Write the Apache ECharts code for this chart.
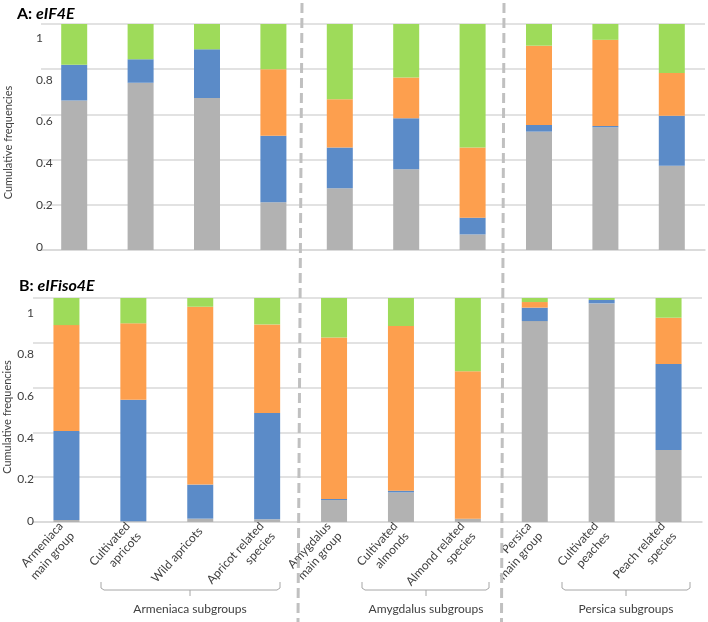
<!DOCTYPE html>
<html><head><meta charset="utf-8">
<script src="https://cdn.jsdelivr.net/npm/echarts@6/dist/echarts.min.js"></script>
<style>html,body{margin:0;padding:0;background:#fff}#c{width:708px;height:622px}</style>
</head><body><div id="c"></div>
<script>
const categories = ['Armeniaca\nmain group','Cultivated\napricots','Wild apricots','Apricot related\nspecies','Amygdalus\nmain group','Cultivated\nalmonds','Almond related\nspecies','Persica\nmain group','Cultivated\npeaches','Peach related\nspecies'];
const yTickLabels = ['0','0.2','0.4','0.6','0.8','1'];
const subgroupLabels = ['Armeniaca subgroups','Amygdalus subgroups','Persica subgroups'];

// Panel A: eIF4E (segment frequencies, bottom to top)
const eIF4E_gray   = [0.661,0.740,0.673,0.211,0.273,0.357,0.069,0.524,0.543,0.373];
const eIF4E_blue   = [0.159,0.104,0.215,0.295,0.181,0.226,0.074,0.029,0.006,0.221];
const eIF4E_orange = [0,0,0,0.294,0.213,0.180,0.311,0.351,0.381,0.189];
const eIF4E_green  = [0.180,0.156,0.112,0.200,0.333,0.237,0.546,0.096,0.070,0.217];

// Panel B: eIFiso4E
const eIFiso4E_gray   = [0.009,0.003,0.015,0.012,0.098,0.132,0.015,0.897,0.976,0.321];
const eIFiso4E_blue   = [0.397,0.543,0.152,0.475,0.005,0.008,0,0.060,0.015,0.384];
const eIFiso4E_orange = [0.473,0.341,0.794,0.395,0.721,0.735,0.658,0.025,0,0.207];
const eIFiso4E_green  = [0.121,0.113,0.039,0.118,0.176,0.125,0.327,0.018,0.009,0.088];

const COLORS = {gray:'#b2b2b2', blue:'#5b8bc8', orange:'#fd9f4e', green:'#9edb5a'};
const FONT = 'Lato, "Open Sans", sans-serif';
const TXT = '#404040';
const GRIDC = '#d9d9d9';

const chart = echarts.init(document.getElementById('c'), null, {renderer:'canvas'});

function mainY(idx){
  return {gridIndex:idx, type:'value', min:0, max:1, interval:0.2,
    axisLabel:{show:false}, axisLine:{show:false}, axisTick:{show:false},
    splitLine:{show:true, lineStyle:{color:GRIDC, width:1.6}}};
}
function labelY(idx, align){
  return {gridIndex:idx, type:'value', min:0, max:1, interval:0.2,
    name:'Cumulative frequencies', nameLocation:'middle', nameRotate:90,
    nameGap: align==='left'?22:20,
    nameTextStyle:{fontFamily:FONT, fontSize:11, color:TXT},
    axisLine:{show:false}, axisTick:{show:false}, splitLine:{show:false},
    axisLabel:{show:true, margin:0, align:align, fontFamily:FONT, fontSize:12, color:TXT,
      formatter:(v,i)=>yTickLabels[i]}};
}
function ser(name, data, color, xi){
  return {type:'bar', name:name, stack:'s'+xi, xAxisIndex:xi, yAxisIndex:xi, data:data,
    barWidth:26, itemStyle:{color:color}, emphasis:{disabled:true}, silent:true};
}

const option = {
  animation:false,
  backgroundColor:'#fff',
  title:[
    {left:12, top:1, text:'{a|A: }{b|eIF4E}', textStyle:{rich:{
      a:{fontFamily:FONT, fontSize:16, fontWeight:'bold', color:'#000'},
      b:{fontFamily:FONT, fontSize:16, fontWeight:'bold', fontStyle:'italic', color:'#000'}}}},
    {left:14, top:273, text:'{a|B: }{b|eIFiso4E}', textStyle:{rich:{
      a:{fontFamily:FONT, fontSize:16, fontWeight:'bold', color:'#000'},
      b:{fontFamily:FONT, fontSize:16, fontWeight:'bold', fontStyle:'italic', color:'#000'}}}}
  ],
  grid:[
    {left:41, right:3, top:24, height:226},
    {left:33, right:6, top:298, height:224},
    {left:36, width:10, top:38, height:209},
    {left:34, width:10, top:313, height:208}
  ],
  xAxis:[
    {gridIndex:0, type:'category', data:categories,
      axisLine:{show:true, lineStyle:{color:GRIDC, width:1.6}}, axisTick:{show:false}, axisLabel:{show:false}},
    {gridIndex:1, type:'category', data:categories,
      axisLine:{show:true, lineStyle:{color:GRIDC, width:1.6}}, axisTick:{show:false},
      axisLabel:{show:true, interval:0, rotate:48, margin:7, fontFamily:FONT, fontSize:12, color:TXT, lineHeight:15}},
    {gridIndex:2, type:'value', show:false},
    {gridIndex:3, type:'value', show:false}
  ],
  yAxis:[mainY(0), mainY(1), labelY(2,'left'), labelY(3,'right')],
  series:[
    ser('gray', eIF4E_gray, COLORS.gray, 0),
    ser('blue', eIF4E_blue, COLORS.blue, 0),
    ser('orange', eIF4E_orange, COLORS.orange, 0),
    ser('green', eIF4E_green, COLORS.green, 0),
    ser('gray', eIFiso4E_gray, COLORS.gray, 1),
    ser('blue', eIFiso4E_blue, COLORS.blue, 1),
    ser('orange', eIFiso4E_orange, COLORS.orange, 1),
    ser('green', eIFiso4E_green, COLORS.green, 1)
  ]
};
chart.setOption(option);

// decorations: group separators, subgroup brackets and labels
const dashStyle = {stroke:'#c0c0c0', lineWidth:3, lineDash:[10,5]};
const brStyle = {stroke:'#a6a6a6', lineWidth:1, fill:null};
const brackets = [
  {l:101, r:280, m:190},
  {l:362, r:489, m:426},
  {l:562, r:690, m:626}
];
const graphics = [
  {type:'line', shape:{x1:302, y1:3, x2:298, y2:622}, style:dashStyle, z:10, silent:true},
  {type:'line', shape:{x1:504, y1:3, x2:501.5, y2:622}, style:dashStyle, z:10, silent:true}
];
brackets.forEach((b,i)=>{
  graphics.push({type:'polyline', shape:{points:[[b.l,582],[b.l,588],[b.l+3,590],[b.r-3,590],[b.r,588],[b.r,582]]}, style:brStyle, silent:true});
  graphics.push({type:'line', shape:{x1:b.m, y1:590, x2:b.m, y2:596}, style:{stroke:'#a6a6a6', lineWidth:1}, silent:true});
  graphics.push({type:'text', x:b.m, y:609, style:{text:subgroupLabels[i], fontFamily:FONT, fontSize:12, fill:TXT, align:'center', verticalAlign:'middle'}, silent:true});
});
chart.setOption({graphic:graphics});
</script>
</body></html>
